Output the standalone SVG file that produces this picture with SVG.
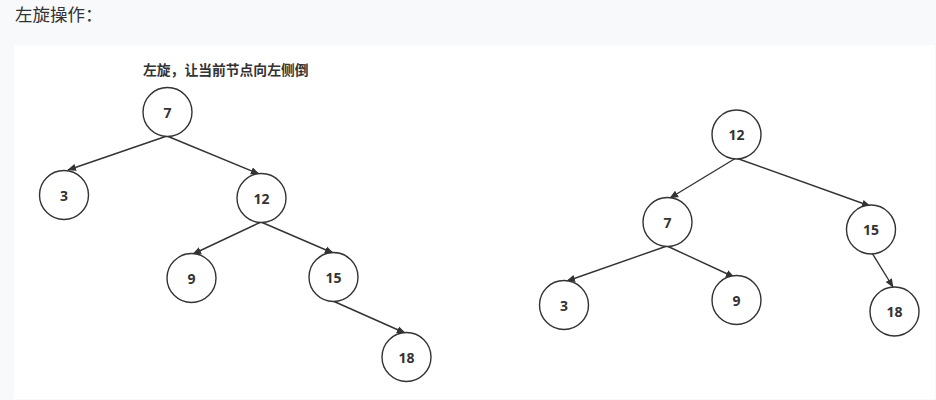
<svg xmlns="http://www.w3.org/2000/svg" width="936" height="400" viewBox="0 0 936 400">
<style>
.node circle{fill:#fff;stroke:#333;stroke-width:1.4}
.node text{font-family:"Open Sans","Noto Sans",sans-serif;font-size:14px;font-weight:bold;fill:#333;text-anchor:middle;dominant-baseline:central}
.edge{stroke:#333;stroke-width:1.4;fill:none;marker-end:url(#arr)}
.cjk{font-family:"Noto Sans CJK SC",sans-serif;fill:#333}
</style>
<defs>
<marker id="arr" viewBox="0 0 10 10" refX="9" refY="5" markerWidth="9" markerHeight="9" markerUnits="userSpaceOnUse" orient="auto">
<path d="M0,1 L10,5 L0,9 Z" fill="#333"/>
</marker>
</defs>
<rect width="936" height="400" fill="#f8f9fa"/>
<rect x="14" y="45" width="921" height="354" fill="#fff"/>
<text class="cjk" x="15" y="21" font-size="17.5">左旋操作：</text>
<text class="cjk" x="143" y="75" font-size="13.8" font-weight="bold">左旋，让当前节点向左侧倒</text>
<g id="connectors">
<line class="edge" x1="167" y1="136" x2="68" y2="170"/>
<line class="edge" x1="167" y1="136" x2="259" y2="174"/>
<line class="edge" x1="261" y1="222" x2="193" y2="254"/>
<line class="edge" x1="261" y1="222" x2="333" y2="253"/>
<line class="edge" x1="333" y1="301" x2="405" y2="333"/>
<line class="edge" x1="736" y1="158" x2="670" y2="198"/>
<line class="edge" x1="736" y1="158" x2="870" y2="206"/>
<line class="edge" x1="667" y1="246" x2="567" y2="281"/>
<line class="edge" x1="667" y1="246" x2="734" y2="277"/>
<line class="edge" x1="872" y1="253" x2="893" y2="287"/>
</g>
<g id="L7" class="node"><circle cx="167.5" cy="112" r="24.5"/><text x="167.5" y="112">7</text></g>
<g id="L3" class="node"><circle cx="64" cy="195" r="24.5"/><text x="64" y="195">3</text></g>
<g id="L12" class="node"><circle cx="261.5" cy="198" r="24.5"/><text x="261.5" y="198">12</text></g>
<g id="L9" class="node"><circle cx="191.5" cy="278" r="24.5"/><text x="191.5" y="278">9</text></g>
<g id="L15" class="node"><circle cx="333.5" cy="277" r="24.5"/><text x="333.5" y="277">15</text></g>
<g id="L18" class="node"><circle cx="406.5" cy="357" r="24.5"/><text x="406.5" y="357">18</text></g>
<g id="R12" class="node"><circle cx="736.5" cy="134.5" r="24.5"/><text x="736.5" y="134.5">12</text></g>
<g id="R7" class="node"><circle cx="667.5" cy="222" r="24.5"/><text x="667.5" y="222">7</text></g>
<g id="R15" class="node"><circle cx="871" cy="229.5" r="24.5"/><text x="871" y="229.5">15</text></g>
<g id="R3" class="node"><circle cx="564" cy="305" r="24.5"/><text x="564" y="305">3</text></g>
<g id="R9" class="node"><circle cx="736.5" cy="300" r="24.5"/><text x="736.5" y="300">9</text></g>
<g id="R18" class="node"><circle cx="894.5" cy="311.5" r="24.5"/><text x="894.5" y="311.5">18</text></g>
</svg>
